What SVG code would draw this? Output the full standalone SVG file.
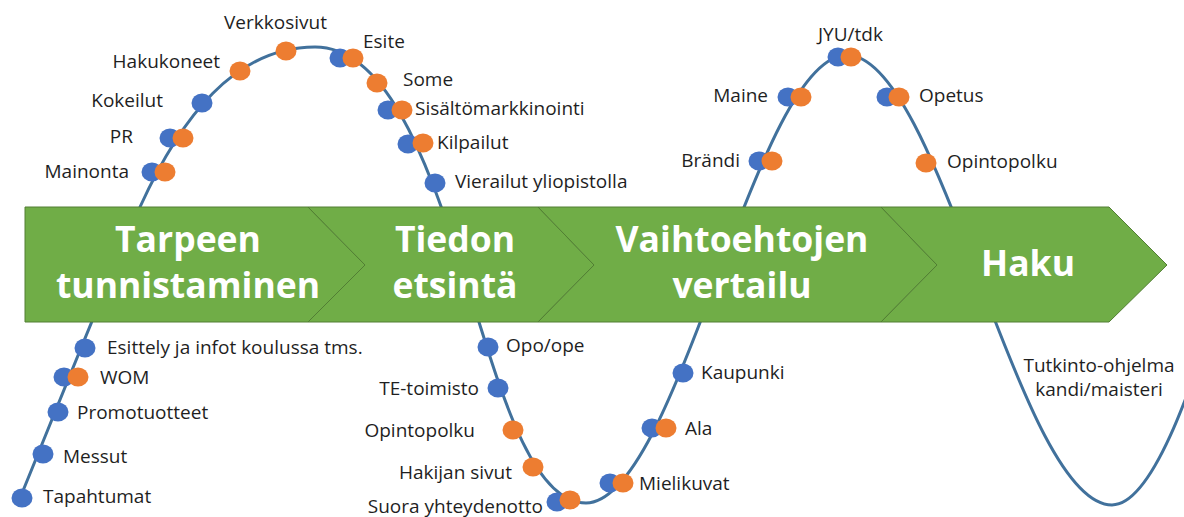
<svg xmlns="http://www.w3.org/2000/svg" width="1184" height="517" viewBox="0 0 1184 517">
<style>
.lbl{font-family:"Open Sans","Noto Sans","DejaVu Sans",sans-serif;font-size:19px;fill:#1f1f1f}
.e{text-anchor:end}
.m{text-anchor:middle}
.big{font-family:"Open Sans","Noto Sans","DejaVu Sans",sans-serif;font-size:35.5px;font-weight:bold;fill:#ffffff;text-anchor:middle}
.chev{fill:#70ad47;stroke:#527f34;stroke-width:1}
.b{fill:#4472c4}
.o{fill:#ed7d31}
.curve{fill:none;stroke:#41719c;stroke-width:3}
</style>
<rect width="1184" height="517" fill="#ffffff"/>
<g id="connectors">
<path class="curve" d="M18,503 C50,425 118,255 140,207 C181,117 235,47 315,47 C385,47 425,155 461,265 C494,365 526,503 586,503 C630.9,503 673.9,393.8 716.5,279 C759.1,164.2 802.1,55 847,55 C892.6,55 936.3,164.7 979.5,280 C1022.7,395.3 1066.4,505 1112,505 C1151.6,505 1189.5,395.3 1227,280"/>
</g>
<g id="stages">
<g id="stage1"><polygon class="chev" points="25,207 308,207 365,265 308,322 25,322"/>
<text class="big" x="188" y="252">Tarpeen</text><text class="big" x="188" y="298">tunnistaminen</text></g>
<g id="stage2"><polygon class="chev" points="308,207 538,207 594,265 538,322 308,322 365,265"/>
<text class="big" x="455" y="252">Tiedon</text><text class="big" x="455" y="298">etsintä</text></g>
<g id="stage3"><polygon class="chev" points="538,207 881,207 937,265 881,322 538,322 594,265"/>
<text class="big" x="742" y="252">Vaihtoehtojen</text><text class="big" x="742" y="298">vertailu</text></g>
<g id="stage4"><polygon class="chev" points="881,207 1109,207 1167,265 1109,322 881,322 937,265"/>
<text class="big" x="1028" y="276">Haku</text></g>
</g>
<g id="points">
<g id="verkkosivut"><ellipse class="o" cx="286" cy="51" rx="10.5" ry="9.5"/><text class="lbl" x="224" y="29">Verkkosivut</text></g>
<g id="hakukoneet"><ellipse class="o" cx="240" cy="71" rx="10.5" ry="9.5"/><text class="lbl e" x="220" y="68">Hakukoneet</text></g>
<g id="kokeilut"><ellipse class="b" cx="202" cy="103" rx="10.5" ry="9.5"/><text class="lbl e" x="163" y="107">Kokeilut</text></g>
<g id="pr"><ellipse class="b" cx="170" cy="138" rx="10.5" ry="9.5"/><ellipse class="o" cx="183" cy="138" rx="10.5" ry="9.5"/><text class="lbl e" x="133" y="143">PR</text></g>
<g id="mainonta"><ellipse class="b" cx="152" cy="172" rx="10.5" ry="9.5"/><ellipse class="o" cx="165" cy="172" rx="10.5" ry="9.5"/><text class="lbl e" x="129" y="178">Mainonta</text></g>
<g id="esite"><ellipse class="b" cx="340" cy="58" rx="10.5" ry="9.5"/><ellipse class="o" cx="353" cy="58" rx="10.5" ry="9.5"/><text class="lbl" x="363" y="48">Esite</text></g>
<g id="some"><ellipse class="o" cx="377" cy="83" rx="10.5" ry="9.5"/><text class="lbl" x="403" y="86">Some</text></g>
<g id="sisalto"><ellipse class="b" cx="388" cy="110" rx="10.5" ry="9.5"/><ellipse class="o" cx="402" cy="110" rx="10.5" ry="9.5"/><text class="lbl" x="415" y="115">Sisältömarkkinointi</text></g>
<g id="kilpailut"><ellipse class="b" cx="408" cy="144" rx="10.5" ry="9.5"/><ellipse class="o" cx="423" cy="143" rx="10.5" ry="9.5"/><text class="lbl" x="437" y="149">Kilpailut</text></g>
<g id="vierailut"><ellipse class="b" cx="435" cy="183" rx="10.5" ry="9.5"/><text class="lbl" x="455" y="188">Vierailut yliopistolla</text></g>
<g id="esittely"><ellipse class="b" cx="85" cy="348" rx="10.5" ry="9.5"/><text class="lbl" x="107" y="354">Esittely ja infot koulussa tms.</text></g>
<g id="wom"><ellipse class="b" cx="64" cy="377" rx="10.5" ry="9.5"/><ellipse class="o" cx="78" cy="377" rx="10.5" ry="9.5"/><text class="lbl" x="100" y="384">WOM</text></g>
<g id="promotuotteet"><ellipse class="b" cx="58" cy="412" rx="10.5" ry="9.5"/><text class="lbl" x="77" y="419">Promotuotteet</text></g>
<g id="messut"><ellipse class="b" cx="43" cy="454" rx="10.5" ry="9.5"/><text class="lbl" x="63" y="463">Messut</text></g>
<g id="tapahtumat"><ellipse class="b" cx="22" cy="498" rx="10.5" ry="9.5"/><text class="lbl" x="43" y="503">Tapahtumat</text></g>
<g id="opo"><ellipse class="b" cx="488" cy="347" rx="10.5" ry="9.5"/><text class="lbl" x="506" y="352">Opo/ope</text></g>
<g id="te"><ellipse class="b" cx="498" cy="388" rx="10.5" ry="9.5"/><text class="lbl e" x="479" y="395">TE-toimisto</text></g>
<g id="opintopolku1"><ellipse class="o" cx="513" cy="430" rx="10.5" ry="9.5"/><text class="lbl e" x="475" y="437">Opintopolku</text></g>
<g id="hakijan"><ellipse class="o" cx="533" cy="467" rx="10.5" ry="9.5"/><text class="lbl e" x="512" y="479">Hakijan sivut</text></g>
<g id="suora"><ellipse class="b" cx="557" cy="502" rx="10.5" ry="9.5"/><ellipse class="o" cx="570" cy="500" rx="10.5" ry="9.5"/><text class="lbl e" x="543" y="513">Suora yhteydenotto</text></g>
<g id="mielikuvat"><ellipse class="b" cx="610" cy="483" rx="10.5" ry="9.5"/><ellipse class="o" cx="623" cy="483" rx="10.5" ry="9.5"/><text class="lbl" x="639" y="490">Mielikuvat</text></g>
<g id="ala"><ellipse class="b" cx="652" cy="428" rx="10.5" ry="9.5"/><ellipse class="o" cx="666" cy="428" rx="10.5" ry="9.5"/><text class="lbl" x="685" y="435">Ala</text></g>
<g id="kaupunki"><ellipse class="b" cx="683" cy="373" rx="10.5" ry="9.5"/><text class="lbl" x="701" y="379">Kaupunki</text></g>
<g id="jyu"><ellipse class="b" cx="838" cy="57" rx="10.5" ry="9.5"/><ellipse class="o" cx="851" cy="57" rx="10.5" ry="9.5"/><text class="lbl" x="818" y="41">JYU/tdk</text></g>
<g id="maine"><ellipse class="b" cx="788" cy="97" rx="10.5" ry="9.5"/><ellipse class="o" cx="801" cy="97" rx="10.5" ry="9.5"/><text class="lbl e" x="768" y="102">Maine</text></g>
<g id="opetus"><ellipse class="b" cx="887" cy="97" rx="10.5" ry="9.5"/><ellipse class="o" cx="899" cy="97" rx="10.5" ry="9.5"/><text class="lbl" x="919" y="102">Opetus</text></g>
<g id="brandi"><ellipse class="b" cx="759" cy="161" rx="10.5" ry="9.5"/><ellipse class="o" cx="772" cy="161" rx="10.5" ry="9.5"/><text class="lbl e" x="740" y="167">Brändi</text></g>
<g id="opintopolku2"><ellipse class="o" cx="926" cy="163" rx="10.5" ry="9.5"/><text class="lbl" x="947" y="168">Opintopolku</text></g>
<g id="tutkinto"><text class="lbl m" x="1099" y="372">Tutkinto-ohjelma</text><text class="lbl m" x="1099" y="396">kandi/maisteri</text></g>
</g>
</svg>
